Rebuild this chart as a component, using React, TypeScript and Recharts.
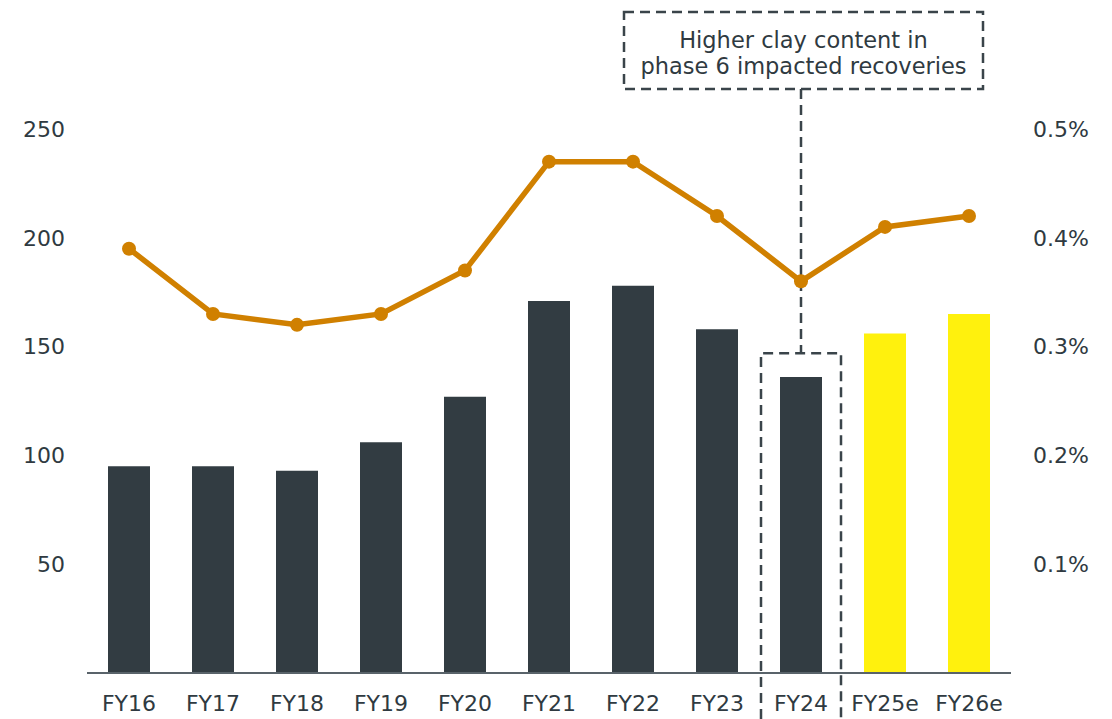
import React from "react";
import { ComposedChart, Bar, Line, XAxis, YAxis, Cell, Customized } from "recharts";

const categories = ["FY16", "FY17", "FY18", "FY19", "FY20", "FY21", "FY22", "FY23", "FY24", "FY25e", "FY26e"];
const barValues = [95, 95, 93, 106, 127, 171, 178, 158, 136, 156, 165];
const lineValues = [0.39, 0.33, 0.32, 0.33, 0.37, 0.47, 0.47, 0.42, 0.36, 0.41, 0.42];
const estimateFlags = [false, false, false, false, false, false, false, false, false, true, true];
const leftTicks = [50, 100, 150, 200, 250];
const rightTicks = [0.1, 0.2, 0.3, 0.4, 0.5];
const annotationLines = ["Higher clay content in", "phase 6 impacted recoveries"];
const annotatedCategory = "FY24";

const data = categories.map((c, i) => ({
  name: c,
  volume: barValues[i],
  grade: lineValues[i],
  est: estimateFlags[i],
}));

const W = 1112;
const H = 719;
const M_TOP = 129;
const LEFT_W = 87;
const RIGHT_W = 101;
const X_H = 46;
const FONT = "'DejaVu Sans', sans-serif";
const TEXT = "#2f3a41";
const DARK = "#323c42";
const YELLOW = "#fff10d";
const ORANGE = "#d08000";
const DASH = "#3a444a";

const plotLeft = LEFT_W;
const plotWidth = W - LEFT_W - RIGHT_W;
const band = plotWidth / categories.length;
const plotBottom = H - X_H;
const plotHeight = plotBottom - M_TOP;
const yPx = (v: number) => M_TOP + (1 - v / 250) * plotHeight;

const Annotation = () => {
  const idx = categories.indexOf(annotatedCategory);
  const cx = plotLeft + (idx + 0.5) * band;
  const boxTop = yPx(147);
  const halfW = 40;
  const calloutL = 624;
  const calloutR = 983;
  const calloutT = 12;
  const calloutB = 89;
  const dash = "10 6";
  const sw = 2.5;
  const tx = (calloutL + calloutR) / 2;
  return (
    <g>
      <rect x={calloutL} y={calloutT} width={calloutR - calloutL} height={calloutB - calloutT} fill="none" stroke={DASH} strokeWidth={sw} strokeDasharray={dash} />
      <text x={tx} y={48} textAnchor="middle" fontFamily={FONT} fontSize={22.5} fill={TEXT}>{annotationLines[0]}</text>
      <text x={tx} y={74} textAnchor="middle" fontFamily={FONT} fontSize={22.5} fill={TEXT}>{annotationLines[1]}</text>
      <line x1={cx} y1={calloutB} x2={cx} y2={boxTop} stroke={DASH} strokeWidth={sw} strokeDasharray={dash} />
      <polyline points={`${cx - halfW},${H} ${cx - halfW},${boxTop} ${cx + halfW},${boxTop} ${cx + halfW},${H}`} fill="none" stroke={DASH} strokeWidth={sw} strokeDasharray={dash} />
    </g>
  );
};

export default function App() {
  const tickStyle = { fontFamily: FONT, fontSize: 22, fill: TEXT };
  return (
    <div style={{ position: "absolute", left: 0, top: 0, width: W, height: H, background: "#fff" }}>
      <ComposedChart width={W} height={H} data={data} margin={{ top: M_TOP, right: 0, bottom: 0, left: 0 }}>
        <XAxis
          dataKey="name"
          height={X_H}
          tickLine={false}
          axisLine={{ stroke: "#59636a", strokeWidth: 2 }}
          tick={tickStyle}
          tickMargin={22}
          tickSize={0}
          interval={0}
        />
        <YAxis
          yAxisId="left"
          orientation="left"
          width={LEFT_W}
          domain={[0, 250]}
          ticks={leftTicks}
          axisLine={false}
          tickLine={false}
          tickSize={0}
          tickMargin={22}
          tick={tickStyle}
        />
        <YAxis
          yAxisId="right"
          orientation="right"
          width={RIGHT_W}
          domain={[0, 0.5]}
          ticks={rightTicks}
          axisLine={false}
          tickLine={false}
          tickSize={0}
          tickMargin={22}
          tick={tickStyle}
          tickFormatter={(v: number) => `${v}%`}
        />
        <Bar yAxisId="left" dataKey="volume" barSize={42} isAnimationActive={false}>
          {data.map((d, i) => (
            <Cell key={i} fill={d.est ? YELLOW : DARK} />
          ))}
        </Bar>
        <Line
          yAxisId="right"
          dataKey="grade"
          stroke={ORANGE}
          strokeWidth={5.5}
          dot={{ r: 7, fill: ORANGE, stroke: "none" }}
          activeDot={false}
          isAnimationActive={false}
        />
        <Customized component={Annotation} />
      </ComposedChart>
    </div>
  );
}
